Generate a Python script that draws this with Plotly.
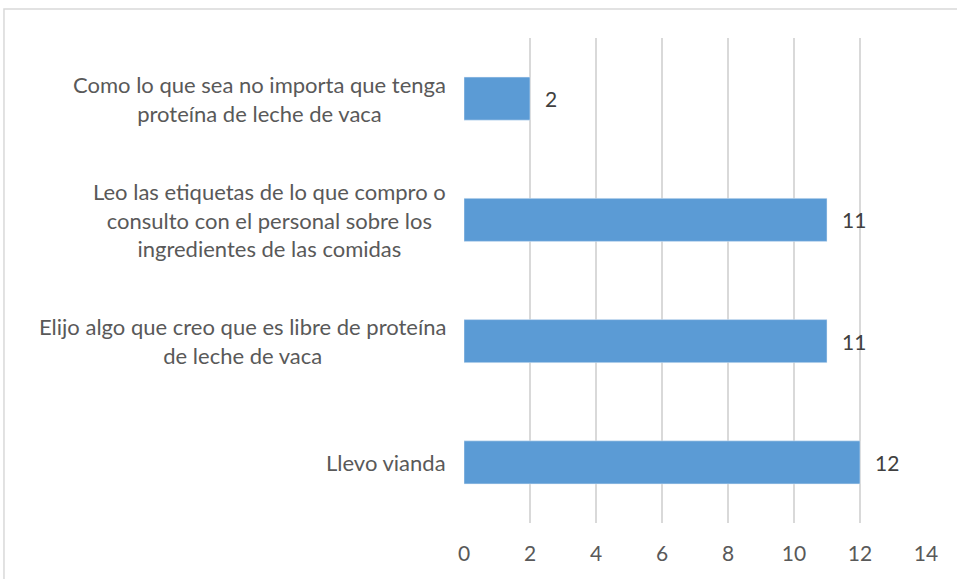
import plotly.graph_objects as go

categories = [
    "Llevo vianda",
    "Elijo algo que creo que es libre de proteína<br>de leche de vaca",
    "Leo las etiquetas de lo que compro o<br>consulto con el personal sobre los<br>ingredientes de las comidas",
    "Como lo que sea no importa que tenga<br>proteína de leche de vaca",
]
values = [12, 11, 11, 2]
x_ticks = [0, 2, 4, 6, 8, 10, 12, 14]

FONT = "Lato, Calibri, sans-serif"

fig = go.Figure(
    go.Bar(
        x=values,
        y=categories,
        orientation="h",
        marker=dict(color="#5B9BD5"),
        hoverinfo="x+y",
    )
)

# category labels, centred line by line like the original
for cat in categories:
    fig.add_annotation(
        x=0, y=cat, xref="x", yref="y",
        text=cat, showarrow=False,
        xanchor="right", align="center", xshift=-16,
        font=dict(family=FONT, size=22, color="#595959"),
    )

# value labels
for cat, v in zip(categories, values):
    fig.add_annotation(
        x=v, y=cat, xref="x", yref="y",
        text=str(v), showarrow=False,
        xanchor="left", xshift=13,
        font=dict(family=FONT, size=21, color="#404040"),
    )

fig.update_layout(
    width=957,
    height=579,
    margin=dict(l=464, r=31, t=38, b=56),
    plot_bgcolor="white",
    paper_bgcolor="white",
    bargap=0.645,
    showlegend=False,
    xaxis=dict(
        range=[0, 14],
        tickvals=x_ticks,
        showgrid=True,
        gridcolor="#d9d9d9",
        gridwidth=1.5,
        zeroline=False,
        showline=False,
        ticks="",
        ticklabelstandoff=16,
        tickfont=dict(family=FONT, size=21, color="#595959"),
    ),
    yaxis=dict(showticklabels=False, showgrid=False, zeroline=False, showline=False),
)

# chart frame (only top and left edges are visible in the crop)
fig.add_shape(
    type="rect", xref="paper", yref="paper",
    x0=-0.9957, x1=1.2, y0=-0.3, y1=1.0598,
    line=dict(color="#d9d9d9", width=1.5),
    fillcolor="rgba(0,0,0,0)",
    layer="below",
)

fig.write_html(
    "out.html",
    config={"displayModeBar": False},
    post_script="document.body.style.margin='0';document.body.style.overflow='hidden';",
)
